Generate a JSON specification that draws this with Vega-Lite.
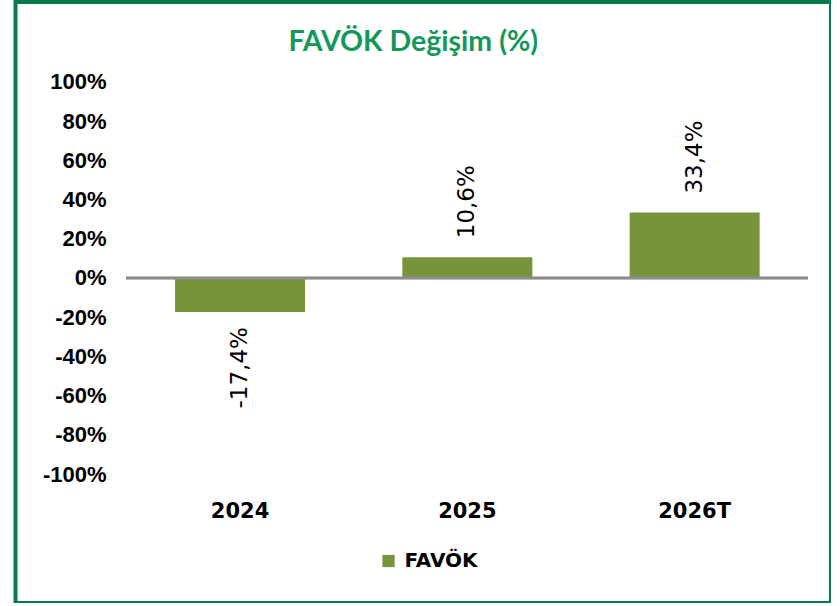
{
  "$schema": "https://vega.github.io/schema/vega-lite/v6.json",
  "width": 815.5,
  "height": 601,
  "autosize": {"type": "none"},
  "padding": {"left": 15.5, "top": 2, "right": 0, "bottom": 0},
  "background": "white",
  "config": {
    "view": {"stroke": "#087A4E", "strokeWidth": 4},
    "locale": {"number": {"decimal": ",", "thousands": ".", "grouping": [3], "currency": ["", "₺"], "minus": "-", "percent": "%"}}
  },
  "title": {
    "text": "FAVÖK Değişim (%)",
    "font": "Lato",
    "fontSize": 28.5,
    "fontWeight": "bold",
    "color": "#13985A",
    "anchor": "middle",
    "frame": "group",
    "offset": -54,
    "dx": -10
  },
  "data": {
    "values": [
      {"yil": "2024", "seri": "FAVÖK", "degisim": -0.174},
      {"yil": "2025", "seri": "FAVÖK", "degisim": 0.106},
      {"yil": "2026T", "seri": "FAVÖK", "degisim": 0.334}
    ]
  },
  "resolve": {"scale": {"x": "independent"}},
  "layer": [
    {
      "encoding": {
        "x": {
          "field": "yil",
          "type": "nominal",
          "sort": null,
          "scale": {"paddingInner": 0.428, "paddingOuter": 0.508, "align": 0.691},
          "axis": {
            "orient": "bottom",
            "offset": -103,
            "labelPadding": 0,
            "domain": false,
            "ticks": false,
            "tickSize": 0,
            "grid": false,
            "labelAngle": 0,
            "labelFont": "DejaVu Sans",
            "labelFontSize": 21,
            "labelFontWeight": "bold",
            "labelColor": "#000000",
            "title": null
          }
        },
        "y": {
          "field": "degisim",
          "type": "quantitative",
          "scale": {"domain": [-1.658, 1.408], "nice": false, "zero": false},
          "axis": {
            "values": [-1, -0.8, -0.6, -0.4, -0.2, 0, 0.2, 0.4, 0.6, 0.8, 1],
            "format": ".0%",
            "labelFont": "Liberation Sans",
            "labelFontSize": 22,
            "labelFontWeight": "bold",
            "labelColor": "#000000",
            "domain": false,
            "ticks": false,
            "tickSize": 0,
            "grid": false,
            "title": null,
            "offset": -110.5,
            "labelPadding": 20
          }
        }
      },
      "layer": [
        {
          "mark": {"type": "bar"},
          "encoding": {
            "color": {
              "field": "seri",
              "type": "nominal",
              "scale": {"range": ["#77933C"]},
              "legend": {
                "title": null,
                "orient": "none",
                "legendX": 363,
                "legendY": 549,
                "padding": 0,
                "direction": "horizontal",
                "symbolType": "square",
                "symbolSize": 150,
                "symbolStrokeWidth": 0,
                "labelFont": "DejaVu Sans",
                "labelFontSize": 20,
                "labelFontWeight": "bold",
                "labelColor": "#000000",
                "labelOffset": 6
              }
            }
          }
        },
        {
          "transform": [{"filter": "datum.degisim >= 0"}],
          "mark": {"type": "text", "angle": 270, "align": "left", "baseline": "middle", "dx": 19, "font": "DejaVu Sans", "fontSize": 23, "color": "#000000"},
          "encoding": {"text": {"field": "degisim", "type": "quantitative", "format": ".1%"}}
        },
        {
          "transform": [{"filter": "datum.degisim < 0"}],
          "mark": {"type": "text", "angle": 270, "align": "right", "baseline": "middle", "dx": -15, "font": "DejaVu Sans", "fontSize": 23, "color": "#000000"},
          "encoding": {"text": {"field": "degisim", "type": "quantitative", "format": ".1%"}}
        }
      ]
    },
    {
      "mark": {"type": "rule", "color": "#8C8C8C", "strokeWidth": 2.5},
      "encoding": {
        "x": {"datum": 0, "type": "quantitative", "scale": {"domain": [0, 1], "range": [110.5, 792.5]}, "axis": null},
        "x2": {"datum": 1},
        "y": {"datum": 0, "type": "quantitative"}
      }
    }
  ]
}
